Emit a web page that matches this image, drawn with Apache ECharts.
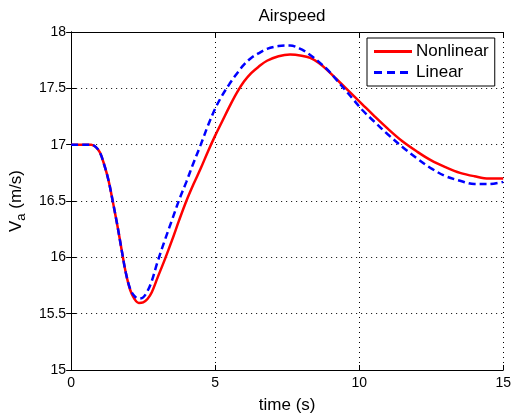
<!DOCTYPE html>
<html><head><meta charset="utf-8">
<script src="https://cdn.jsdelivr.net/npm/echarts@6/dist/echarts.min.js"></script>
<style>html,body{margin:0;padding:0;background:#fff}#c{width:514px;height:419px}</style>
</head><body><div id="c"></div>
<script>
const time = [0,0.5,0.7,0.85,1.0,1.15,1.3,1.45,1.6,1.75,1.9,2.05,2.2,2.35,2.5,2.65,2.8,3.0,3.25,3.5,3.75,4.0,4.25,4.5,4.75,5.0,5.25,5.5,5.75,6.0,6.25,6.5,6.8,7.2,7.6,8.0,8.3,8.6,8.9,9.2,9.5,9.8,10.1,10.5,11.0,11.5,12.0,12.5,13.0,13.5,14.0,14.5,15.0];
const nonlinear = [17.00,17.00,17.00,16.98,16.93,16.82,16.68,16.49,16.29,16.07,15.86,15.71,15.63,15.595,15.60,15.63,15.69,15.82,15.98,16.15,16.33,16.50,16.65,16.79,16.94,17.08,17.21,17.34,17.46,17.56,17.635,17.69,17.745,17.785,17.80,17.79,17.77,17.725,17.66,17.585,17.51,17.435,17.36,17.26,17.14,17.03,16.94,16.86,16.80,16.75,16.72,16.70,16.70];
const linear = [17.00,17.00,17.00,16.98,16.93,16.82,16.68,16.49,16.29,16.07,15.86,15.72,15.655,15.635,15.645,15.70,15.79,15.96,16.15,16.33,16.51,16.67,16.84,17.00,17.17,17.32,17.44,17.54,17.63,17.71,17.77,17.81,17.85,17.875,17.88,17.845,17.795,17.735,17.665,17.58,17.49,17.40,17.31,17.21,17.09,16.98,16.88,16.79,16.72,16.68,16.65,16.65,16.67];
const seriesNames = ['Nonlinear','Linear'];
const xTicks = [0,5,10,15];
const yTicks = [15,15.5,16,16.5,17,17.5,18];

const font = 'Liberation Sans, Arial, sans-serif';
const chart = echarts.init(document.getElementById('c'));
const pair = (ys) => time.map((t,i)=>[t,ys[i]]);
const tickStyle = {show:true,inside:true,length:5,lineStyle:{color:'#000'}};
const lineStyleAxis = {show:true,lineStyle:{color:'#000',width:1}};
chart.setOption({
  animation:false,
  backgroundColor:'#fff',
  title:{text:'Airspeed',left:287,top:3,textAlign:'center',textStyle:{fontFamily:font,fontSize:17,fontWeight:'normal',color:'#000'}},
  grid:{left:70,right:10,top:32,bottom:46},
  legend:{
    orient:'vertical',left:367,top:38,
    padding:[5,6,5,7],itemWidth:38,itemHeight:3,itemGap:4,
    borderColor:'#000',borderWidth:1,backgroundColor:'#fff',borderRadius:0,
    textStyle:{fontFamily:font,fontSize:17,color:'#000',padding:[0,0,0,-1]},
    data:[
      {name:seriesNames[0],icon:'path://M0,0H38V3H0Z'},
      {name:seriesNames[1],icon:'path://M0,0H8V3H0Z M13,0H21V3H13Z M26,0H34V3H26Z M38,0H38V3H38Z'}
    ]
  },
  xAxis:[
    {type:'value',min:0,max:15,interval:5,position:'bottom',
      name:'time (s)',nameLocation:'middle',nameGap:27,
      nameTextStyle:{fontFamily:font,fontSize:17,color:'#000'},
      axisLine:lineStyleAxis,axisTick:tickStyle,
      axisLabel:{fontFamily:font,fontSize:14,color:'#000',margin:6,
        formatter:(v)=>xTicks.includes(v)?String(v):''},
      splitLine:{show:true,lineStyle:{color:'#000',type:[1,4],width:1}}},
    {type:'value',min:0,max:15,interval:5,position:'top',axisLabel:{show:false},
      axisLine:lineStyleAxis,axisTick:tickStyle,splitLine:{show:false}}
  ],
  yAxis:[
    {type:'value',min:15,max:18,interval:0.5,position:'left',
      name:'{v|V}{s|a}{v| (m/s)}',nameLocation:'middle',nameGap:40,
      nameTextStyle:{fontFamily:font,fontSize:17,color:'#000',
        rich:{v:{fontFamily:font,fontSize:17,color:'#000'},s:{fontFamily:font,fontSize:13,color:'#000',padding:[10,0,0,0]}}},
      axisLine:lineStyleAxis,axisTick:tickStyle,
      axisLabel:{fontFamily:font,fontSize:14,color:'#000',margin:5,
        formatter:(v)=>yTicks.includes(v)?String(v):''},
      splitLine:{show:true,lineStyle:{color:'#000',type:[1,4],width:1}}},
    {type:'value',min:15,max:18,interval:0.5,position:'right',axisLabel:{show:false},
      axisLine:lineStyleAxis,axisTick:tickStyle,splitLine:{show:false}}
  ],
  series:[
    {name:seriesNames[0],type:'line',smooth:0.35,symbol:'none',data:pair(nonlinear),
      lineStyle:{color:'#ff0000',width:2.5},itemStyle:{color:'#ff0000'},z:2},
    {name:seriesNames[1],type:'line',smooth:0.35,symbol:'none',data:pair(linear),
      lineStyle:{color:'#0000ff',width:2.5,type:[7,4]},itemStyle:{color:'#0000ff'},z:3}
  ]
});
</script></body></html>
